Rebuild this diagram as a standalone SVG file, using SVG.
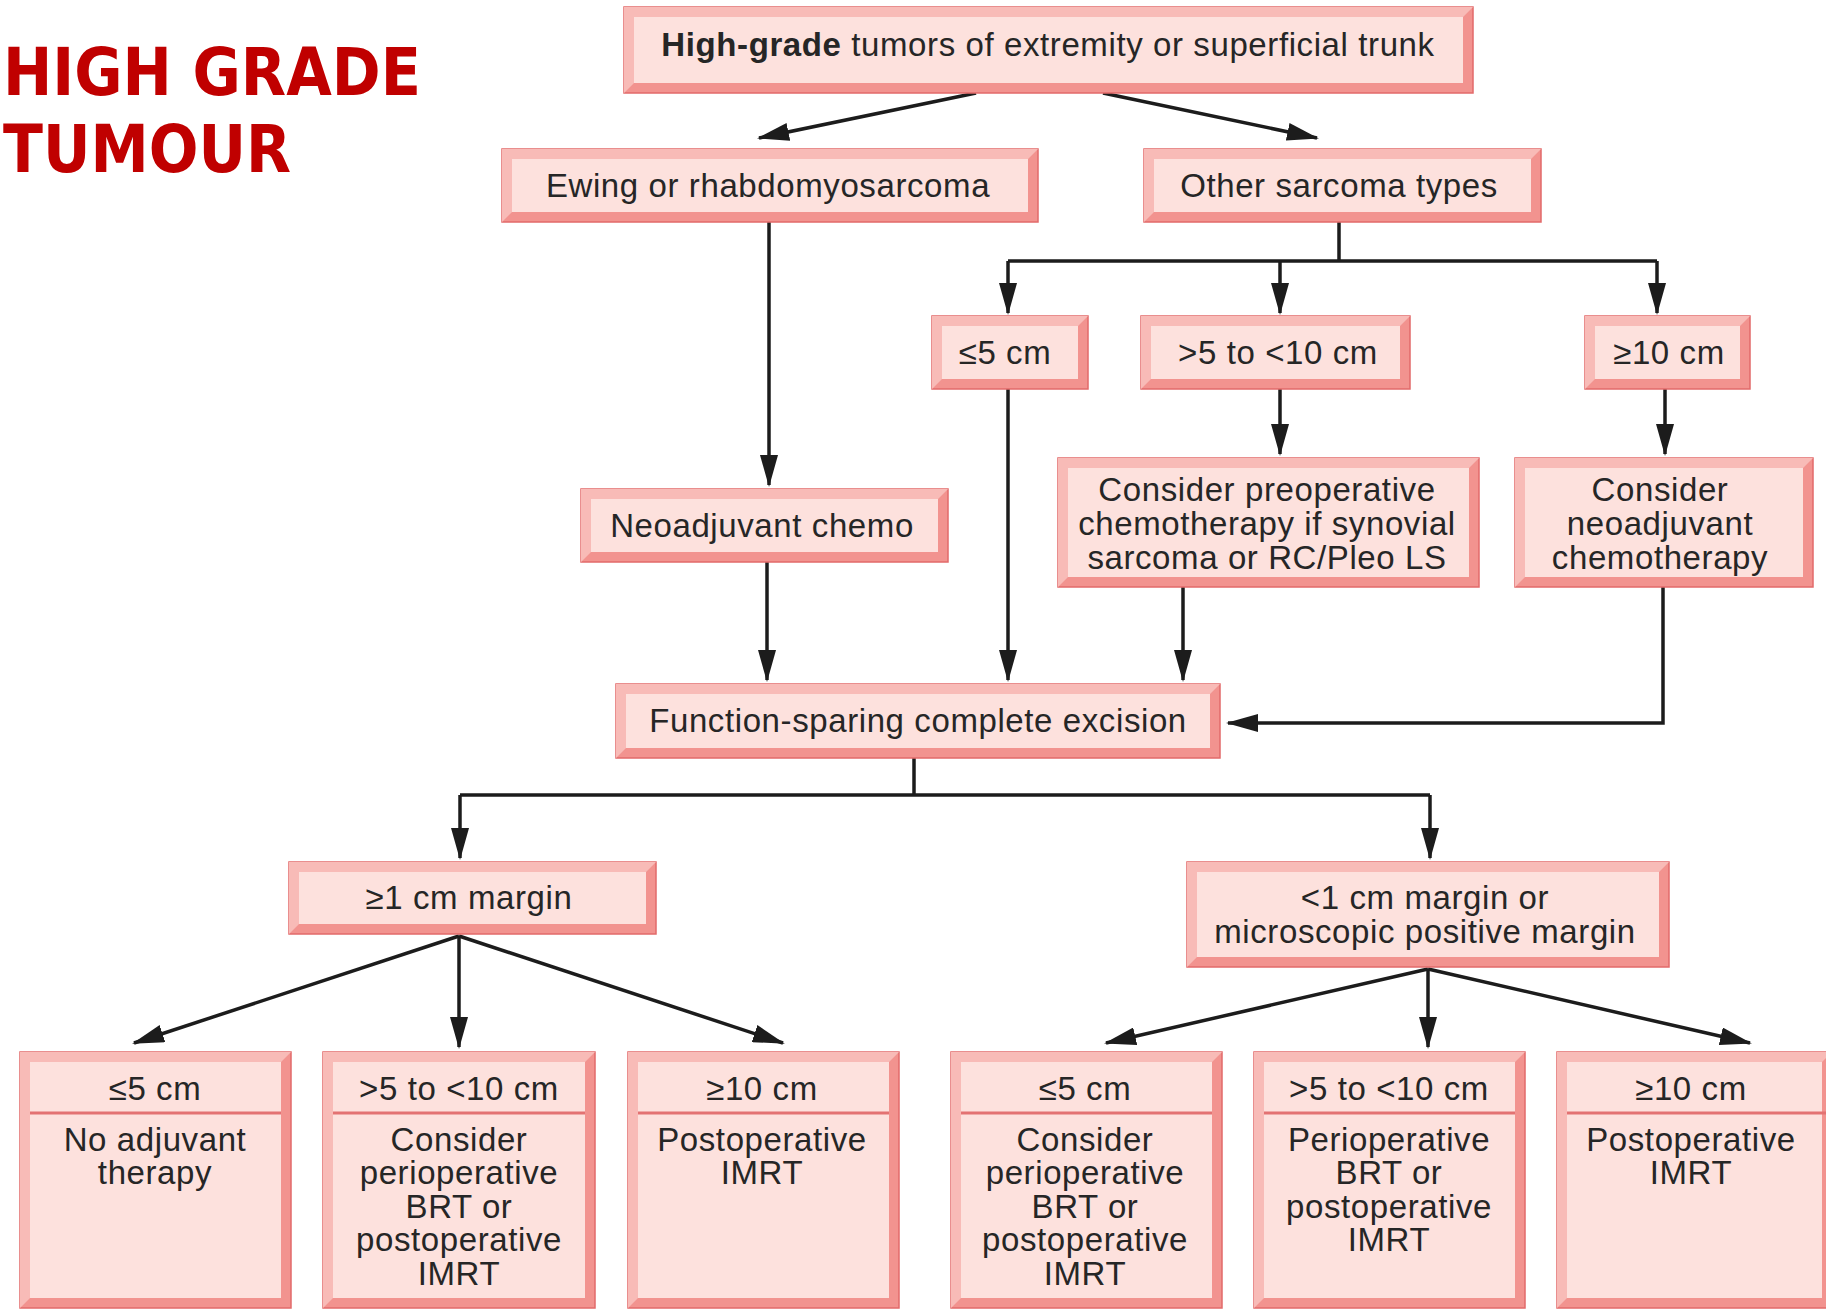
<svg xmlns="http://www.w3.org/2000/svg" width="1826" height="1309" viewBox="0 0 1826 1309">
<style>
.frame{fill:#f2938f;stroke:#e26a6a;stroke-width:1.5}
.hi{fill:#f8bbb7}
.face{fill:#fde1dd}
.div{stroke:#e37272;stroke-width:3}
.t{font-family:"Liberation Sans",Arial,sans-serif;font-size:33px;letter-spacing:0.6px;fill:#262626;text-anchor:middle}
.ttl{font-family:"DejaVu Sans",sans-serif;font-weight:bold;font-size:66px;fill:#c00000}
.ln{fill:none;stroke:#1c1c1c;stroke-width:3.5}
.ar{fill:none;stroke:#1c1c1c;stroke-width:3.5;marker-end:url(#ah)}
</style>
<defs>
<marker id="ah" markerWidth="32" markerHeight="18" refX="30" refY="9" orient="auto" markerUnits="userSpaceOnUse">
<path d="M0,0 L32,9 L0,18 Z" fill="#1c1c1c"/>
</marker>
</defs>
<rect width="1826" height="1309" fill="#ffffff"/>

<g id="title">
<text class="ttl" x="3" y="95" textLength="418" lengthAdjust="spacingAndGlyphs">HIGH GRADE</text>
<text class="ttl" x="3" y="172" textLength="288" lengthAdjust="spacingAndGlyphs">TUMOUR</text>
</g>

<g id="connectors">
<path class="ar" d="M976,93 L759,138"/>
<path class="ar" d="M1103,93 L1317,138"/>
<path class="ar" d="M769,222 V485"/>
<path class="ln" d="M1339,222 V261 M1008,261 H1657"/>
<path class="ar" d="M1008,261 V313"/>
<path class="ar" d="M1280,261 V313"/>
<path class="ar" d="M1657,261 V313"/>
<path class="ar" d="M1008,389 V680"/>
<path class="ar" d="M1280,389 V454"/>
<path class="ar" d="M1665,389 V454"/>
<path class="ar" d="M767,562 V680"/>
<path class="ar" d="M1183,587 V680"/>
<path class="ar" d="M1663,587 V723 H1228"/>
<path class="ln" d="M914,758 V795 M460,795 H1430"/>
<path class="ar" d="M460,795 V858"/>
<path class="ar" d="M1430,795 V858"/>
<path class="ar" d="M459,936 L134,1043"/>
<path class="ar" d="M459,936 V1047"/>
<path class="ar" d="M459,936 L783,1043"/>
<path class="ar" d="M1428,969 L1106,1043"/>
<path class="ar" d="M1428,969 V1047"/>
<path class="ar" d="M1428,969 L1750,1043"/>
</g>

<g id="n-top">
<rect class="frame" x="624" y="7" width="849" height="86"/>
<path class="hi" d="M624,7 H1473 L1463,17 H634 V83 L624,93 Z"/>
<rect class="face" x="634" y="17" width="829" height="66"/>
<text class="t" x="1048" y="56"><tspan font-weight="bold">High-grade</tspan> tumors of extremity or superficial trunk</text>
</g>

<g id="n-ewing">
<rect class="frame" x="502" y="149" width="536" height="73"/>
<path class="hi" d="M502,149 H1038 L1028,159 H512 V212 L502,222 Z"/>
<rect class="face" x="512" y="159" width="516" height="53"/>
<text class="t" x="768" y="197">Ewing or rhabdomyosarcoma</text>
</g>

<g id="n-other">
<rect class="frame" x="1144" y="149" width="397" height="73"/>
<path class="hi" d="M1144,149 H1541 L1531,159 H1154 V212 L1144,222 Z"/>
<rect class="face" x="1154" y="159" width="377" height="53"/>
<text class="t" x="1339" y="197">Other sarcoma types</text>
</g>

<g id="n-s1">
<rect class="frame" x="932" y="316" width="156" height="73"/>
<path class="hi" d="M932,316 H1088 L1078,326 H942 V379 L932,389 Z"/>
<rect class="face" x="942" y="326" width="136" height="53"/>
<text class="t" x="1005" y="364">≤5 cm</text>
</g>

<g id="n-s2">
<rect class="frame" x="1141" y="316" width="269" height="73"/>
<path class="hi" d="M1141,316 H1410 L1400,326 H1151 V379 L1141,389 Z"/>
<rect class="face" x="1151" y="326" width="249" height="53"/>
<text class="t" x="1278" y="364">&gt;5 to &lt;10 cm</text>
</g>

<g id="n-s3">
<rect class="frame" x="1585" y="316" width="165" height="73"/>
<path class="hi" d="M1585,316 H1750 L1740,326 H1595 V379 L1585,389 Z"/>
<rect class="face" x="1595" y="326" width="145" height="53"/>
<text class="t" x="1669" y="364">≥10 cm</text>
</g>

<g id="n-neo">
<rect class="frame" x="581" y="489" width="367" height="73"/>
<path class="hi" d="M581,489 H948 L938,499 H591 V552 L581,562 Z"/>
<rect class="face" x="591" y="499" width="347" height="53"/>
<text class="t" x="762" y="537">Neoadjuvant chemo</text>
</g>

<g id="n-pre">
<rect class="frame" x="1058" y="458" width="421" height="129"/>
<path class="hi" d="M1058,458 H1479 L1469,468 H1068 V577 L1058,587 Z"/>
<rect class="face" x="1068" y="468" width="401" height="109"/>
<text class="t" x="1267" y="501">Consider preoperative</text>
<text class="t" x="1267" y="535">chemotherapy if synovial</text>
<text class="t" x="1267" y="569">sarcoma or RC/Pleo LS</text>
</g>

<g id="n-cneo">
<rect class="frame" x="1515" y="458" width="298" height="129"/>
<path class="hi" d="M1515,458 H1813 L1803,468 H1525 V577 L1515,587 Z"/>
<rect class="face" x="1525" y="468" width="278" height="109"/>
<text class="t" x="1660" y="501">Consider</text>
<text class="t" x="1660" y="535">neoadjuvant</text>
<text class="t" x="1660" y="569">chemotherapy</text>
</g>

<g id="n-fsce">
<rect class="frame" x="616" y="684" width="604" height="74"/>
<path class="hi" d="M616,684 H1220 L1210,694 H626 V748 L616,758 Z"/>
<rect class="face" x="626" y="694" width="584" height="54"/>
<text class="t" x="918" y="732">Function-sparing complete excision</text>
</g>

<g id="n-m1">
<rect class="frame" x="289" y="862" width="367" height="72"/>
<path class="hi" d="M289,862 H656 L646,872 H299 V924 L289,934 Z"/>
<rect class="face" x="299" y="872" width="347" height="52"/>
<text class="t" x="469" y="909">≥1 cm margin</text>
</g>

<g id="n-m2">
<rect class="frame" x="1187" y="862" width="482" height="105"/>
<path class="hi" d="M1187,862 H1669 L1659,872 H1197 V957 L1187,967 Z"/>
<rect class="face" x="1197" y="872" width="462" height="85"/>
<text class="t" x="1425" y="909">&lt;1 cm margin or</text>
<text class="t" x="1425" y="943">microscopic positive margin</text>
</g>

<g id="n-b1">
<rect class="frame" x="20" y="1052" width="271" height="256"/>
<path class="hi" d="M20,1052 H291 L281,1062 H30 V1298 L20,1308 Z"/>
<rect class="face" x="30" y="1062" width="251" height="236"/>
<line class="div" x1="30" y1="1113" x2="281" y2="1113"/>
<text class="t" x="155" y="1100">≤5 cm</text>
<text class="t" x="155" y="1151">No adjuvant</text>
<text class="t" x="155" y="1184">therapy</text>
</g>

<g id="n-b2">
<rect class="frame" x="323" y="1052" width="272" height="256"/>
<path class="hi" d="M323,1052 H595 L585,1062 H333 V1298 L323,1308 Z"/>
<rect class="face" x="333" y="1062" width="252" height="236"/>
<line class="div" x1="333" y1="1113" x2="585" y2="1113"/>
<text class="t" x="459" y="1100">&gt;5 to &lt;10 cm</text>
<text class="t" x="459" y="1151">Consider</text>
<text class="t" x="459" y="1184">perioperative</text>
<text class="t" x="459" y="1218">BRT or</text>
<text class="t" x="459" y="1251">postoperative</text>
<text class="t" x="459" y="1285">IMRT</text>
</g>

<g id="n-b3">
<rect class="frame" x="628" y="1052" width="271" height="256"/>
<path class="hi" d="M628,1052 H899 L889,1062 H638 V1298 L628,1308 Z"/>
<rect class="face" x="638" y="1062" width="251" height="236"/>
<line class="div" x1="638" y1="1113" x2="889" y2="1113"/>
<text class="t" x="762" y="1100">≥10 cm</text>
<text class="t" x="762" y="1151">Postoperative</text>
<text class="t" x="762" y="1184">IMRT</text>
</g>

<g id="n-b4">
<rect class="frame" x="951" y="1052" width="271" height="256"/>
<path class="hi" d="M951,1052 H1222 L1212,1062 H961 V1298 L951,1308 Z"/>
<rect class="face" x="961" y="1062" width="251" height="236"/>
<line class="div" x1="961" y1="1113" x2="1212" y2="1113"/>
<text class="t" x="1085" y="1100">≤5 cm</text>
<text class="t" x="1085" y="1151">Consider</text>
<text class="t" x="1085" y="1184">perioperative</text>
<text class="t" x="1085" y="1218">BRT or</text>
<text class="t" x="1085" y="1251">postoperative</text>
<text class="t" x="1085" y="1285">IMRT</text>
</g>

<g id="n-b5">
<rect class="frame" x="1254" y="1052" width="271" height="256"/>
<path class="hi" d="M1254,1052 H1525 L1515,1062 H1264 V1298 L1254,1308 Z"/>
<rect class="face" x="1264" y="1062" width="251" height="236"/>
<line class="div" x1="1264" y1="1113" x2="1515" y2="1113"/>
<text class="t" x="1389" y="1100">&gt;5 to &lt;10 cm</text>
<text class="t" x="1389" y="1151">Perioperative</text>
<text class="t" x="1389" y="1184">BRT or</text>
<text class="t" x="1389" y="1218">postoperative</text>
<text class="t" x="1389" y="1251">IMRT</text>
</g>

<g id="n-b6">
<rect class="frame" x="1557" y="1052" width="275" height="256"/>
<path class="hi" d="M1557,1052 H1832 L1822,1062 H1567 V1298 L1557,1308 Z"/>
<rect class="face" x="1567" y="1062" width="255" height="236"/>
<line class="div" x1="1567" y1="1113" x2="1826" y2="1113"/>
<text class="t" x="1691" y="1100">≥10 cm</text>
<text class="t" x="1691" y="1151">Postoperative</text>
<text class="t" x="1691" y="1184">IMRT</text>
</g>
</svg>
